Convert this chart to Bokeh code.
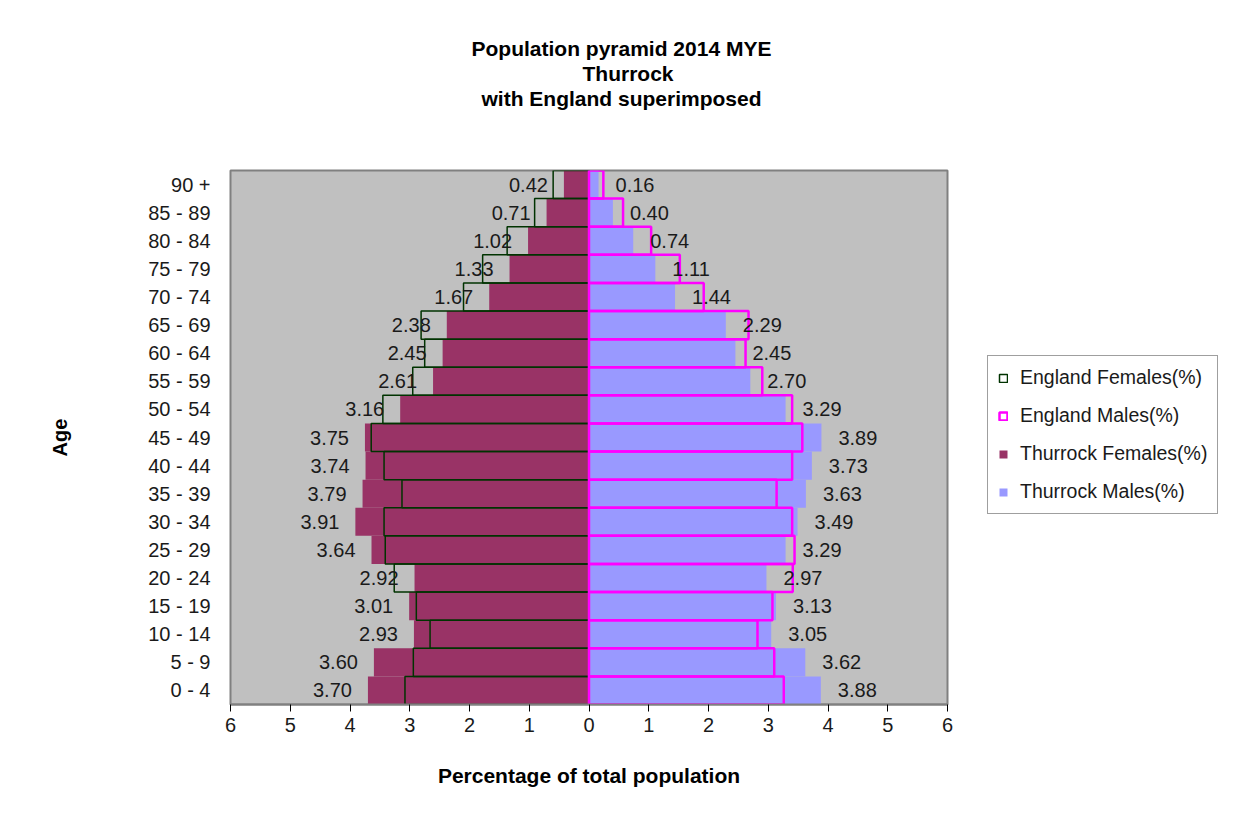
from bokeh.plotting import figure
from bokeh.models import Range1d, FactorRange, FixedTicker, Legend, LegendItem, ColumnDataSource, Title
from bokeh.core.properties import value
from bokeh.embed import file_html
from bokeh.resources import INLINE

ages = ["0 - 4", "5 - 9", "10 - 14", "15 - 19", "20 - 24", "25 - 29", "30 - 34", "35 - 39",
        "40 - 44", "45 - 49", "50 - 54", "55 - 59", "60 - 64", "65 - 69", "70 - 74",
        "75 - 79", "80 - 84", "85 - 89", "90 +"]
thurrock_females = [3.70, 3.60, 2.93, 3.01, 2.92, 3.64, 3.91, 3.79, 3.74, 3.75, 3.16, 2.61,
                    2.45, 2.38, 1.67, 1.33, 1.02, 0.71, 0.42]
thurrock_males = [3.88, 3.62, 3.05, 3.13, 2.97, 3.29, 3.49, 3.63, 3.73, 3.89, 3.29, 2.70,
                  2.45, 2.29, 1.44, 1.11, 0.74, 0.40, 0.16]
england_females = [3.08, 2.94, 2.66, 2.89, 3.26, 3.41, 3.43, 3.13, 3.43, 3.645, 3.45, 2.95,
                   2.75, 2.81, 2.10, 1.78, 1.37, 0.91, 0.60]
england_males = [3.26, 3.10, 2.82, 3.07, 3.41, 3.44, 3.40, 3.14, 3.40, 3.57, 3.40, 2.90,
                 2.62, 2.67, 1.92, 1.52, 1.04, 0.57, 0.24]
x_ticks = [-6, -5, -4, -3, -2, -1, 0, 1, 2, 3, 4, 5, 6]
x_tick_labels = ["6", "5", "4", "3", "2", "1", "0", "1", "2", "3", "4", "5", "6"]
title_lines = ["Population pyramid 2014 MYE", "Thurrock", "with England superimposed"]

FONT = "Liberation Sans"

src = ColumnDataSource(dict(
    age=ages,
    tf=[-v for v in thurrock_females],
    tm=thurrock_males,
    ef=[-v for v in england_females],
    em=england_males,
    tf_lab=["%.2f" % v for v in thurrock_females],
    tm_lab=["%.2f" % v for v in thurrock_males],
))

p = figure(width=1225, height=818, frame_width=717, frame_height=534,
           y_range=FactorRange(*ages, range_padding=0), x_range=Range1d(-6, 6),
           output_backend="svg", toolbar_location=None,
           min_border_left=230, min_border_top=170, min_border_bottom=114, min_border_right=278)

p.title.visible = False
# spacer nearest the frame, then lines stacked outward (last added is farthest)
p.add_layout(Title(text=" ", standoff=36, text_font=FONT, text_font_size="21px",
                   text_font_style="bold", text_line_height=1.0), "above")
title_offsets = [241, 352, 251]
for line, off in reversed(list(zip(title_lines, title_offsets))):
    t = Title(text=line, align="left", offset=off, standoff=0,
              text_font=FONT, text_font_size="21px", text_font_style="bold",
              text_color="black", text_line_height=1.0)
    p.add_layout(t, "above")

p.background_fill_color = "#C0C0C0"
p.border_fill_color = "white"
p.outline_line_color = "#808080"
p.outline_line_width = 2
p.xgrid.visible = False
p.ygrid.visible = False

r_tf = p.hbar(y="age", left=0, right="tf", height=1.0, source=src,
              fill_color="#993366", line_color=None)
r_tm = p.hbar(y="age", left=0, right="tm", height=1.0, source=src,
              fill_color="#9999FF", line_color=None)
r_ef = p.hbar(y="age", left=0, right="ef", height=1.0, source=src,
              fill_alpha=0, line_color="#003300", line_width=1.5)
r_em = p.hbar(y="age", left=0, right="em", height=1.0, source=src,
              fill_alpha=0, line_color="#FF00FF", line_width=2.5)

p.text(x="tf", y="age", text="tf_lab", source=src, x_offset=-16,
       text_align="right", text_baseline="middle", text_font=value(FONT),
       text_font_size="20px", text_color="#1a1a1a")
p.text(x="tm", y="age", text="tm_lab", source=src, x_offset=17,
       text_align="left", text_baseline="middle", text_font=value(FONT),
       text_font_size="20px", text_color="#1a1a1a")

xa = p.xaxis[0]
xa.ticker = FixedTicker(ticks=x_ticks)
xa.major_label_overrides = {t: l for t, l in zip(x_ticks, x_tick_labels)}
xa.minor_tick_line_color = None
xa.major_tick_in = 0
xa.major_tick_out = 7
xa.major_tick_line_color = "black"
xa.axis_line_color = "#808080"
xa.axis_line_width = 2
xa.major_label_standoff = 6
xa.major_label_text_font = FONT
xa.major_label_text_font_size = "20px"
xa.major_label_text_color = "#1a1a1a"
xa.axis_label = "Percentage of total population"
xa.axis_label_text_font = FONT
xa.axis_label_text_font_size = "21px"
xa.axis_label_text_font_style = "bold"
xa.axis_label_text_color = "black"
xa.axis_label_standoff = 29

ya = p.yaxis[0]
ya.axis_line_color = None
ya.major_tick_line_color = None
ya.minor_tick_line_color = None
ya.major_label_standoff = 14
ya.major_label_text_font = FONT
ya.major_label_text_font_size = "20px"
ya.major_label_text_color = "#1a1a1a"
ya.axis_label = "Age"
ya.axis_label_text_font = FONT
ya.axis_label_text_font_size = "20px"
ya.axis_label_text_font_style = "bold"
ya.axis_label_text_color = "black"
ya.axis_label_standoff = 74

legend = Legend(items=[
    LegendItem(label="England Females(%)", renderers=[r_ef]),
    LegendItem(label="England Males(%)", renderers=[r_em]),
    LegendItem(label="Thurrock Females(%)", renderers=[r_tf]),
    LegendItem(label="Thurrock Males(%)", renderers=[r_tm]),
], location=(40, 190))
legend.label_text_font = FONT
legend.label_text_font_size = "19.5px"
legend.label_text_color = "#1a1a1a"
legend.glyph_width = 10
legend.glyph_height = 10
legend.label_height = 18
legend.spacing = 15
legend.padding = 10
legend.label_standoff = 12
legend.border_line_color = "#404040"
legend.border_line_width = 1
legend.background_fill_color = "white"
legend.background_fill_alpha = 1
legend.margin = 0
p.add_layout(legend, "right")

open("out.html", "w").write(file_html(p, INLINE))
